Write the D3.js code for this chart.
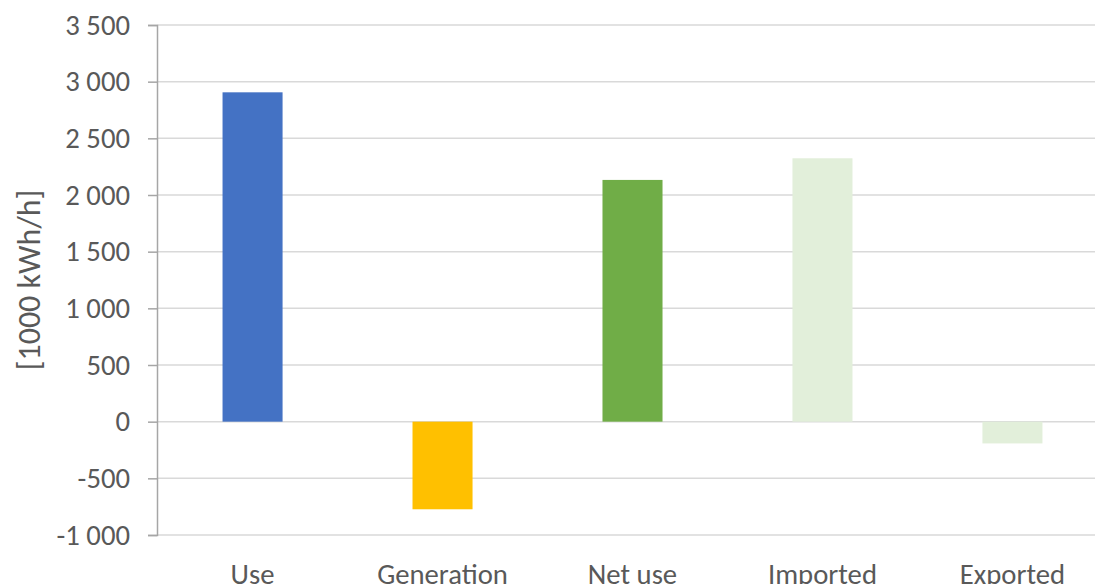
<!DOCTYPE html>
<html>
<head>
<meta charset="utf-8">
<script src="https://cdn.jsdelivr.net/npm/d3@7"></script>
<style>
  html, body { margin: 0; padding: 0; background: #fff; overflow: hidden; }
  svg { display: block; }
  text { font-family: Carlito, Calibri, "Open Sans", sans-serif; fill: #595959; }
</style>
</head>
<body>
<svg id="chart" width="1095" height="584"></svg>
<script>
const categories = ["Use", "Generation", "Net use", "Imported", "Exported"];
const values = [2906, -773, 2133, 2324, -192];
const colors = ["#4472C4", "#FFC000", "#70AD47", "#E2EFDA", "#E2EFDA"];
const yTicks = [-1000, -500, 0, 500, 1000, 1500, 2000, 2500, 3000, 3500];
const yLabel = "[1000 kWh/h]";

(function () {
const svg = d3.select("#chart");
const pl = 157, pr = 1108, pt = 25, pb = 535;

const x = d3.scaleBand().domain(categories).range([pl, pr]).paddingInner(0.684).paddingOuter(0.345);
const y = d3.scaleLinear().domain([-1000, 3500]).range([pb, pt]);

const loc = d3.formatLocale({ decimal: ".", thousands: " ", grouping: [3], currency: ["", ""], minus: "-" });
const fmt = loc.format(",d");

// gridlines
svg.append("g").selectAll("line").data(yTicks).join("line")
  .attr("x1", pl).attr("x2", 1095)
  .attr("y1", d => y(d)).attr("y2", d => y(d))
  .attr("stroke", "#d9d9d9").attr("stroke-width", 1.5);

// bars
svg.append("g").selectAll("rect").data(values).join("rect")
  .attr("x", (d, i) => x(categories[i]))
  .attr("width", x.bandwidth())
  .attr("y", d => y(Math.max(0, d)))
  .attr("height", d => Math.abs(y(d) - y(0)))
  .attr("fill", (d, i) => colors[i]);

// y axis
const yAxis = d3.axisLeft(y).tickValues(yTicks).tickFormat(fmt).tickSize(9).tickPadding(18);
const ga = svg.append("g").attr("transform", `translate(${pl},0)`).call(yAxis);
ga.select(".domain").attr("stroke", "#a6a6a6").attr("stroke-width", 1.5);
ga.selectAll(".tick line").attr("stroke", "#a6a6a6").attr("stroke-width", 1.5);
ga.selectAll(".tick text").attr("font-size", 28.7).attr("fill", "#595959")
  .style("font-family", 'Carlito, Calibri, "Open Sans", sans-serif');

// x labels
svg.append("g").selectAll("text").data(categories).join("text")
  .attr("x", d => x(d) + x.bandwidth() / 2)
  .attr("y", 583.5)
  .attr("text-anchor", "middle")
  .attr("font-size", 28.7)
  .text(d => d);

// y label
svg.append("text")
  .attr("transform", "translate(40,280) rotate(-90)")
  .attr("text-anchor", "middle")
  .attr("font-size", 32)
  .text(yLabel);
})();
</script>
</body>
</html>
